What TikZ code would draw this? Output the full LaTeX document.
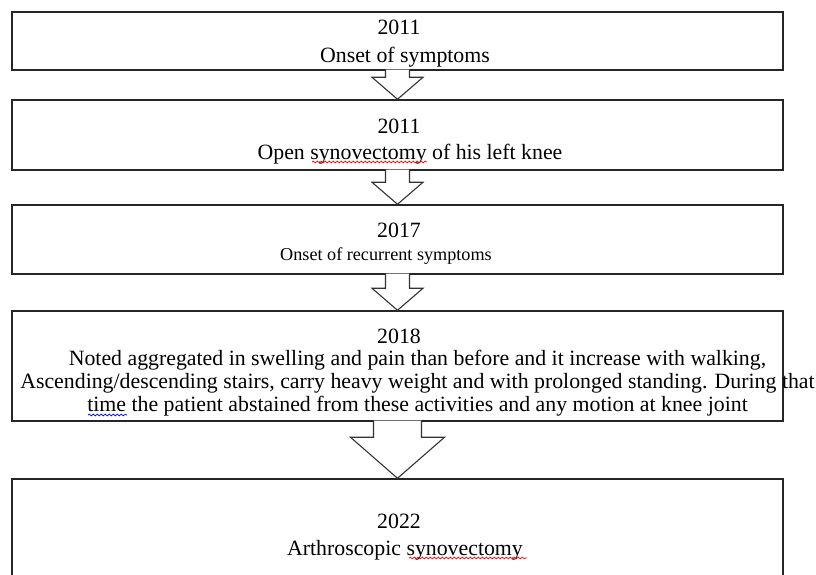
\documentclass[tikz,border=0pt]{standalone}
\usepackage{fontspec}
\setmainfont{Liberation Serif}
\usetikzlibrary{calc,decorations.pathmorphing}

\begin{document}
\begin{tikzpicture}[
      x=0.55pt, y=-0.55pt,
      box/.style={rectangle,draw=black!85,line width=0.8pt,fill=none,minimum width=771*0.55pt,inner sep=0pt},
      year/.style={anchor=base,font=\fontsize{12}{14}\selectfont},
      desc/.style={anchor=base,align=center,font=\fontsize{12}{12.6}\selectfont},
      blk/.style={draw=black!80,line width=0.6pt,fill=white,line join=miter},
      squig/.style={decorate,decoration={snake,amplitude=0.5pt,segment length=2.2pt},line width=0.4pt}
    ]
    \useasboundingbox (0,0) rectangle (816,575);
    % boxes
    \node[box,minimum height=58*0.55pt]  (b1) at (397.5,41)    {};
    \node[box,minimum height=70*0.55pt]  (b2) at (397.5,135)   {};
    \node[box,minimum height=69*0.55pt]  (b3) at (397.5,239.5) {};
    \node[box,minimum height=110*0.55pt] (b4) at (397.5,366)   {};
    \node[box,minimum height=121*0.55pt] (b5) at (397.5,539.5) {};
    % block arrows
    \foreach \u/\v in {b1/b2,b2/b3,b3/b4}{
      \filldraw[blk] ($(\u.south)+(-12,-1)$) -- ($(\v.north)+(-12,-22)$) -- ($(\v.north)+(-25.5,-22)$)
        -- (\v.north) -- ($(\v.north)+(25.5,-22)$) -- ($(\v.north)+(12,-22)$) -- ($(\u.south)+(12,-1)$);
    }
    \filldraw[blk] ($(b4.south)+(-24,-1)$) -- ($(b5.north)+(-24,-41)$) -- ($(b5.north)+(-47,-41)$)
      -- (b5.north) -- ($(b5.north)+(47,-41)$) -- ($(b5.north)+(24,-41)$) -- ($(b4.south)+(24,-1)$);
    % texts
    \node[year] (y1) at (399,35)  {2011};
    \node[desc] (d1) at (405,63)  {Onset of symptoms};
    \node[year] (y2) at (399,133) {2011};
    \node[desc] (d2) at (410,159) {Open synovectomy of his left knee};
    \node[year] (y3) at (399,237) {2017};
    \node[desc,font=\fontsize{10}{12}\selectfont] (d3) at (386,260) {Onset of recurrent symptoms};
    \node[year] (y4) at (399,343) {2018};
    \node[desc] (d4) at (417.5,411) {Noted aggregated in swelling and pain than before and it increase with walking,\\
      Ascending/descending stairs, carry heavy weight and with prolonged standing. During that\\
      time the patient abstained from these activities and any motion at knee joint};
    \node[year] (y5) at (399,528) {2022};
    \node[desc] (d5) at (405,555) {Arthroscopic synovectomy};
    % spell-check marks
    \draw[squig,red]  (312,162) -- (427,162);
    \draw[squig,blue] (88,415)  -- (127,415);
    \draw[squig,red]  (409,558) -- (527,558);
  \end{tikzpicture}
\end{document}
